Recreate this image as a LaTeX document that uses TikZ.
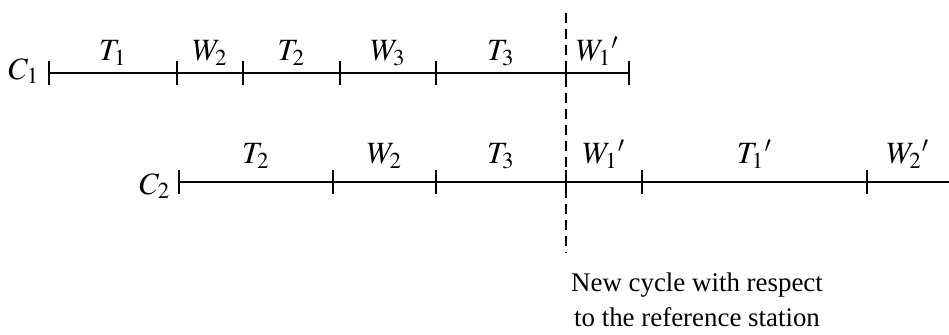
\documentclass[tikz,border=0pt]{standalone}
\usepackage{mathptmx}
\usepackage{fontspec}
\setmainfont{Liberation Serif}
\usepackage{tikz}
\usetikzlibrary{positioning}

\begin{document}
\begin{tikzpicture}[x=0.42pt,y=-0.42pt,
    tick/.style={line width=0.9pt},
    axis/.style={line width=0.8pt},
    slot/.style={midway,above=2pt,inner sep=1pt,font=\fontsize{13}{15}\selectfont},
    lowslot/.style={slot,above=4.5pt}]
\useasboundingbox (0,0) rectangle (949,335);

% Channel C1
\node[font=\fontsize{13}{15}\selectfont] (c1) at (24,71) {$C_1$};
\coordinate (a0) at (49,73);
\coordinate (a1) at (177,73);
\coordinate (a2) at (243,73);
\coordinate (a3) at (340,73);
\coordinate (a4) at (436,73);
\coordinate (a5) at (566,73);
\coordinate (a6) at (629,73);
\draw[axis] (a0) -- (a6);
\foreach \p in {a0,a1,a2,a3,a4,a5,a6}
  \draw[tick] (\p) ++(0,-12) -- ++(0,24);
\path (a0) -- (a1) node[slot] {$T_1$};
\path (a1) -- (a2) node[slot] {$W_2$};
\path (a2) -- (a3) node[slot] {$T_2$};
\path (a3) -- (a4) node[slot] {$W_3$};
\path (a4) -- (a5) node[slot] {$T_3$};
\path (a5) -- (a6) node[slot] {$W_1{}'$};

% Channel C2
\node[font=\fontsize{13}{15}\selectfont] (c2) at (155,186) {$C_2$};
\coordinate (b0) at (179,182);
\coordinate (b1) at (333,182);
\coordinate (b2) at (436,182);
\coordinate (b3) at (566,182);
\coordinate (b4) at (642,182);
\coordinate (b5) at (867,182);
\coordinate (b6) at (949,182);
\draw[axis] (b0) -- (b6);
\foreach \p in {b0,b1,b2,b3,b4,b5}
  \draw[tick] (\p) ++(0,-12) -- ++(0,24);
\path (b0) -- (b1) node[lowslot] {$T_2$};
\path (b1) -- (b2) node[lowslot] {$W_2$};
\path (b2) -- (b3) node[lowslot] {$T_3$};
\path (b3) -- (b4) node[lowslot] {$W_1{}'$};
\path (b4) -- (b5) node[lowslot] {$T_1{}'$};
\path (b5) -- (b6) node[lowslot] {$W_2{}'$};

% reference station
\coordinate (top) at (566,13);
\coordinate (bot) at (566,253);
\draw[line width=0.8pt,dash pattern=on 4.2pt off 2.5pt] (top) -- (bot);
\node[align=center,font=\fontsize{11.3}{14.5}\selectfont] (note) at (697,300)
  {New cycle with respect\\to the reference station};

\end{tikzpicture}
\end{document}
